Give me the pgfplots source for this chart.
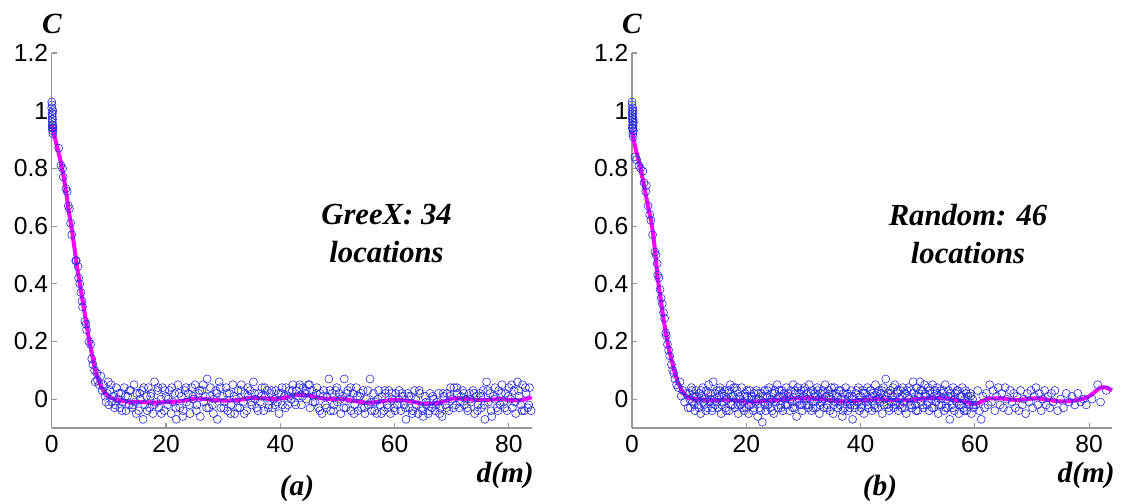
\documentclass[border=0pt]{standalone}
\usepackage{fontspec}
\setmainfont{Liberation Serif}
\newfontfamily\arial{Liberation Sans}
\usepackage{pgfplots}
\pgfplotsset{compat=1.18}
\definecolor{axgray}{RGB}{150,150,150}
\pgfplotsset{
  panel/.style={
    scale only axis, width=360pt, height=281.25pt,
    xmin=0, xmax=84, ymin=-0.1, ymax=1.2,
    axis x line=bottom, axis y line=left,
    axis line style={-, axgray, line width=1.1pt},
    tick style={axgray, line width=0.8pt}, tick align=inside,
    major tick length=3.75pt,
    xtick={0,20,40,60,80}, ytick={0,0.2,0.4,0.6,0.8,1,1.2},
    /pgf/number format/assume math mode=true,
    /pgf/number format/.cd, fixed, precision=1, /pgfplots/.cd,
    ticklabel style={font=\arial\fontsize{18.5}{20}\selectfont, text=black},
    yticklabel style={inner sep=2.5pt},
    xticklabel style={inner sep=1pt, yshift=-4pt},
    clip=false,
  },
  pts/.style={only marks, mark=o, mark size=3pt, mark options={draw={rgb,255:red,40;green,40;blue,230}, line width=0.45pt}},
  fit/.style={no marks, color={rgb,255:red,255;green,0;blue,255}, line width=3pt, smooth},
}
\begin{document}
\begin{tikzpicture}
\useasboundingbox (0,0) rectangle (842.25pt,377.25pt);
% ---------------- panel (a)
\begin{axis}[panel, at={(38.8pt,56.25pt)}, anchor=south west]
\addplot[pts] coordinates {
(0,1.03) (0,1.01) (0.05,0.99) (0.05,0.97) (0.1,0.98) (0.1,0.96) (0.1,0.95) (0.15,0.94) (0.15,0.93) (0.2,0.92) (0.2,1.00) (0.05,1.02) (0.1,0.99) (0.15,0.97) (0.2,0.95) (0.25,0.94) (0.05,0.94)
(1.2,0.87) (1.6,0.81) (1.9,0.80) (2.0,0.77) (2.5,0.73) (2.7,0.72) (2.9,0.67) (3.1,0.66) (3.3,0.61) (3.5,0.57) (4.2,0.48) (4.3,0.48) (4.6,0.46) (4.7,0.42) (4.9,0.40) (5.1,0.37) (5.3,0.34) (5.4,0.32) (5.8,0.27) (6.0,0.26) (6.1,0.24) (6.5,0.20) (6.8,0.19) (7.0,0.14) (7.2,0.12) (7.5,0.10) (7.9,0.09) (7.6,0.06) (8.0,0.065) (8.3,0.05) (8.6,0.08) (8.8,0.03) (9.0,0.05) (9.3,0.01) (9.5,-0.01) (9.7,0.02) (9.9,0.06) (10.0,-0.02)
(10.2,0.03) (10.5,-0.01) (10.8,0.01) (11.1,-0.02) (11.3,0.04) (11.6,0.00) (11.9,-0.03) (12.2,0.02) (12.4,-0.01) (12.7,0.04) (13.0,-0.04) (13.3,0.01) (13.5,-0.02) (13.8,0.03) (14.1,-0.03) (14.4,0.05) (14.6,-0.01) (14.9,0.02) (15.2,-0.04) (15.5,0.00) (15.8,0.03) (16.0,-0.07) (16.3,-0.02) (16.6,0.01) (16.9,0.04) (17.1,-0.03) (17.4,0.02) (17.7,-0.05) (18.0,0.06) (18.3,-0.01) (18.5,0.03) (18.8,-0.03) (19.1,0.00) (19.4,0.04) (19.7,-0.04) (20.0,0.01) (20.3,-0.02) (20.6,0.03) (20.9,-0.05) (21.2,-0.01) (21.5,0.02) (21.8,-0.07) (22.1,0.05) (22.4,-0.03) (22.7,0.01) (23.0,-0.04) (23.3,0.03) (23.6,-0.01) (23.9,0.02) (24.2,-0.05) (24.5,0.04) (24.8,0.00) (25.1,0.05) (25.4,-0.02) (25.7,0.02) (26.0,-0.06) (26.3,0.03) (26.6,-0.01) (26.9,0.01) (27.2,0.07) (27.5,-0.03) (27.8,0.04) (28.1,-0.02) (28.4,0.00) (28.7,0.03) (29.0,-0.07) (29.3,0.06) (29.6,-0.03) (29.9,0.01)
(30.2,-0.01) (30.5,0.04) (30.8,-0.04) (31.1,0.02) (31.4,-0.02) (31.7,0.05) (32.0,-0.05) (32.3,0.00) (32.6,0.03) (32.9,-0.03) (33.2,0.05) (33.5,-0.01) (33.8,0.02) (34.1,-0.04) (34.4,0.01) (34.7,0.03) (35.0,-0.02) (35.3,0.06) (35.6,0.00) (35.9,-0.03) (36.2,0.02) (36.5,-0.01) (36.8,0.04) (37.1,-0.04) (37.4,0.01) (37.7,0.03) (38.0,-0.02) (38.3,0.02) (38.6,-0.03) (38.9,0.00) (39.2,0.03) (39.5,-0.01) (39.8,-0.05) (40.1,0.02) (40.4,-0.02) (40.7,0.01) (41.0,0.04) (41.3,-0.02) (41.6,0.03) (41.9,0.00) (42.2,0.05) (42.5,-0.01) (42.8,0.03) (43.1,0.01) (43.4,0.05) (43.7,-0.02) (44.0,0.04) (44.3,0.02) (44.6,0.00) (44.9,0.05) (45.2,-0.03) (45.5,0.03) (45.8,0.01) (46.1,-0.01) (46.4,0.04) (46.7,-0.03) (47.0,0.02) (47.3,-0.05) (47.6,0.03) (47.9,-0.02) (48.2,0.01) (48.5,0.07) (48.8,-0.04) (49.1,0.02) (49.4,-0.02) (49.7,0.03)
(50.0,-0.01) (50.3,0.02) (50.6,-0.05) (50.9,0.01) (51.2,0.07) (51.5,-0.03) (51.8,0.03) (52.1,0.00) (52.4,-0.04) (52.7,0.02) (53.0,-0.02) (53.3,0.04) (53.6,-0.04) (53.9,0.01) (54.2,-0.03) (54.5,0.03) (54.8,-0.05) (55.1,0.00) (55.4,-0.02) (55.7,0.07) (56.0,-0.04) (56.3,0.02) (56.6,-0.01) (56.9,-0.05) (57.2,0.03) (57.5,-0.02) (57.8,0.01) (58.1,-0.04) (58.4,0.02) (58.7,-0.02) (59.0,0.03) (59.3,-0.05) (59.6,0.00) (59.9,-0.03) (60.2,0.02) (60.5,-0.02) (60.8,0.03) (61.1,-0.04) (61.4,0.01) (61.7,-0.02) (62.0,-0.07) (62.3,0.02) (62.6,-0.03) (62.9,0.01) (63.2,-0.04) (63.5,0.03) (63.8,-0.02) (64.1,-0.05) (64.4,0.02) (64.7,-0.03) (65.0,-0.06) (65.3,0.01) (65.6,-0.02) (65.9,-0.05) (66.2,0.02) (66.5,-0.03) (66.8,0.00) (67.1,-0.04) (67.4,-0.01) (67.7,0.02) (68.0,-0.03) (68.3,-0.06) (68.6,0.01) (68.9,-0.02) (69.2,0.02) (69.5,-0.04) (69.8,0.04)
(70.1,0.00) (70.4,0.04) (70.7,-0.02) (71.0,0.02) (71.3,-0.03) (71.6,0.01) (71.9,0.03) (72.2,-0.02) (72.5,0.00) (72.8,-0.04) (73.1,0.02) (73.4,-0.01) (73.7,0.03) (74.0,-0.05) (74.3,0.01) (74.6,-0.02) (74.9,0.02) (75.2,-0.03) (75.5,0.03) (75.8,-0.07) (76.1,0.06) (76.4,-0.01) (76.7,0.02) (77.0,-0.06) (77.3,0.01) (77.6,0.04) (77.9,-0.03) (78.2,0.03) (78.5,-0.02) (78.8,0.05) (79.1,-0.01) (79.4,0.02) (79.7,-0.04) (80.0,0.04) (80.3,0.00) (80.6,-0.03) (80.9,0.03) (81.2,-0.05) (81.5,0.06) (81.8,0.01) (82.1,-0.02) (82.4,0.05) (82.7,-0.04) (83.0,0.02) (83.3,-0.03) (83.6,0.04) (83.9,-0.04)
(10.4,0.05) (11.0,-0.03) (11.7,0.02) (12.3,-0.04) (12.9,0.01) (13.6,0.03) (14.2,-0.02) (14.8,-0.05) (15.4,0.02) (16.1,0.04) (16.7,-0.04) (17.3,0.01) (17.9,-0.02) (18.6,0.04) (19.2,-0.05) (19.8,0.03) (20.4,0.00) (21.0,0.04) (21.7,-0.03) (22.3,0.02) (22.9,-0.06) (23.5,0.04) (24.1,-0.02) (24.7,0.01) (25.3,-0.04) (25.9,0.03) (26.5,0.05) (27.1,-0.03) (27.7,0.01) (28.3,-0.05) (28.9,0.02) (29.5,0.04) (30.1,-0.03) (30.7,0.02) (31.3,-0.05) (31.9,0.01) (32.5,-0.03) (33.1,0.03) (33.7,-0.05) (34.3,0.04) (34.9,-0.01) (35.5,0.02) (36.1,-0.04) (36.7,0.01) (37.3,0.04) (37.9,-0.03) (38.5,0.03) (39.1,-0.02) (39.7,0.02) (40.3,0.04) (40.9,-0.03) (41.5,0.01) (42.1,0.03) (42.7,-0.02) (43.3,0.04) (43.9,0.01) (44.5,0.03) (45.1,0.05) (45.7,-0.01) (46.3,0.02) (46.9,-0.04) (47.5,0.01) (48.1,-0.03) (48.7,0.03) (49.3,-0.04) (49.9,0.04)
(50.5,0.00) (51.1,-0.03) (51.7,0.02) (52.3,0.04) (52.9,-0.05) (53.5,0.01) (54.1,0.02) (54.7,-0.03) (55.3,0.03) (55.9,-0.01) (56.5,-0.04) (57.1,0.00) (57.7,-0.05) (58.3,0.03) (58.9,-0.03) (59.5,0.02) (60.1,-0.04) (60.7,0.00) (61.3,0.02) (61.9,-0.03) (62.5,0.01) (63.1,-0.05) (63.7,0.00) (64.3,0.03) (64.9,-0.04) (65.5,-0.01) (66.1,-0.04) (66.7,0.01) (67.3,-0.02) (67.9,-0.05) (68.5,0.02) (69.1,-0.03) (69.7,0.01) (70.3,-0.03) (70.9,0.04) (71.5,-0.01) (72.1,0.02) (72.7,-0.03) (73.3,0.00) (73.9,0.02) (74.5,-0.04) (75.1,0.01) (75.7,-0.02) (76.3,0.03) (76.9,-0.04) (77.5,0.00) (78.1,-0.04) (78.7,0.02) (79.3,-0.03) (79.9,0.01) (80.5,0.05) (81.1,-0.01) (81.7,0.03) (82.3,-0.04) (82.9,0.04) (83.5,-0.02)
};
\addplot[fit] coordinates {
(0,0.95) (0.5,0.91) (1,0.87) (1.5,0.83) (2,0.78) (2.5,0.72) (3,0.65) (3.5,0.59) (4,0.52) (4.5,0.45) (5,0.39) (5.5,0.33) (6,0.27) (6.5,0.21) (7,0.16) (7.5,0.11) (8,0.075) (8.5,0.05) (9,0.03) (10,0.01) (11,0) (12,-0.005) (14,-0.01) (16,-0.01) (18,-0.012) (20,-0.01) (22,-0.008) (24,-0.002) (25,0.002) (27,0.0) (29,-0.004) (31,-0.005) (33,-0.002) (35,0.004) (37,0.003) (39,0.0) (41,0.006) (43,0.015) (45,0.012) (47,0.004) (49,0.0) (51,0.0) (53,-0.006) (55,-0.012) (57,-0.01) (59,-0.004) (61,-0.003) (63,-0.008) (65,-0.016) (67,-0.014) (69,-0.006) (70,0.002) (72,0.001) (74,-0.002) (76,-0.003) (78,0.0) (80,-0.002) (82,-0.004) (84,0.007)
};
\end{axis}
% ---------------- panel (b)
\begin{axis}[panel, at={(474pt,56.25pt)}, anchor=south west]
\addplot[pts] coordinates {
(0,1.03) (0,1.02) (0,1.00) (0.05,0.99) (0.05,0.98) (0.05,0.97) (0.1,1.01) (0.1,0.96) (0.1,0.95) (0.1,0.94) (0.15,0.99) (0.15,0.93) (0.15,0.92) (0.2,0.97) (0.2,0.91) (0.2,0.95) (0.25,0.93) (0.05,0.94) (0.1,0.98) (0.2,1.00) (0.25,0.96)
(0.5,0.84) (0.8,0.83) (1.2,0.81) (1.5,0.80) (1.9,0.79) (2.1,0.75) (2.4,0.72) (2.5,0.74) (2.8,0.67) (3.1,0.64) (3.3,0.62) (3.6,0.57) (4.0,0.51) (4.2,0.50) (4.4,0.47) (4.5,0.43) (4.7,0.42) (4.9,0.38) (5.1,0.35) (5.3,0.33) (5.5,0.30) (5.7,0.28) (5.9,0.23) (6.0,0.22) (6.2,0.19) (6.4,0.17) (6.6,0.15) (6.9,0.12) (7.1,0.10) (7.3,0.09) (7.5,0.07) (7.8,0.05) (8.1,0.04) (8.4,0.06) (8.6,0.01) (8.9,0.03) (9.2,-0.01) (9.5,0.02) (9.8,-0.03)
(10.0,0.02) (10.2,-0.03) (10.4,0.04) (10.6,-0.01) (10.8,0.01) (11.0,-0.04) (11.2,0.03) (11.4,0.00) (11.6,-0.02) (11.8,0.02) (12.0,-0.05) (12.2,0.01) (12.4,0.04) (12.6,-0.02) (12.8,0.00) (13.0,0.03) (13.2,-0.03) (13.4,0.05) (13.6,-0.01) (13.8,0.02) (14.0,-0.04) (14.2,0.06) (14.4,0.00) (14.6,-0.02) (14.8,0.03) (15.0,-0.03) (15.2,0.01) (15.4,0.04) (15.6,-0.05) (15.8,0.02) (16.0,-0.01) (16.2,0.03) (16.4,-0.03) (16.6,0.00) (16.8,0.02) (17.0,-0.04) (17.2,0.05) (17.4,0.01) (17.6,-0.02) (17.8,0.04) (18.0,-0.03) (18.2,0.00) (18.4,0.03) (18.6,-0.05) (18.8,0.01) (19.0,-0.02) (19.2,0.04) (19.4,-0.01) (19.6,-0.04) (19.8,0.02)
(20.0,-0.03) (20.2,0.01) (20.4,-0.05) (20.6,0.03) (20.8,-0.02) (21.0,0.00) (21.2,-0.04) (21.4,0.02) (21.6,-0.01) (21.8,0.03) (22.0,-0.06) (22.2,0.00) (22.4,-0.03) (22.6,0.02) (22.8,-0.08) (23.0,-0.01) (23.2,0.03) (23.4,-0.04) (23.6,0.01) (23.8,-0.02) (24.0,0.04) (24.2,-0.03) (24.4,0.00) (24.6,0.02) (24.8,-0.05) (25.0,0.03) (25.2,-0.01) (25.4,0.05) (25.6,-0.03) (25.8,0.01) (26.0,-0.02) (26.2,0.03) (26.4,-0.04) (26.6,0.02) (26.8,0.00) (27.0,0.04) (27.2,-0.02) (27.4,0.01) (27.6,-0.04) (27.8,0.03) (28.0,-0.01) (28.2,0.05) (28.4,-0.03) (28.6,0.02) (28.8,-0.06) (29.0,0.04) (29.2,0.00) (29.4,-0.02) (29.6,0.03) (29.8,-0.04)
(30.0,0.01) (30.2,0.04) (30.4,-0.02) (30.6,0.02) (30.8,-0.03) (31.0,0.05) (31.2,0.00) (31.4,-0.04) (31.6,0.03) (31.8,-0.01) (32.0,0.02) (32.2,-0.03) (32.4,0.04) (32.6,0.00) (32.8,-0.05) (33.0,0.02) (33.2,-0.01) (33.4,0.03) (33.6,-0.03) (33.8,0.05) (34.0,0.01) (34.2,-0.02) (34.4,0.03) (34.6,-0.04) (34.8,0.00) (35.0,0.02) (35.2,-0.05) (35.4,0.04) (35.6,-0.01) (35.8,0.01) (36.0,-0.03) (36.2,0.03) (36.4,-0.02) (36.6,0.00) (36.8,-0.06) (37.0,0.02) (37.2,-0.03) (37.4,0.04) (37.6,-0.01) (37.8,-0.04) (38.0,0.01) (38.2,-0.02) (38.4,0.03) (38.6,-0.07) (38.8,0.00) (39.0,-0.03) (39.2,0.02) (39.4,-0.01) (39.6,0.04) (39.8,-0.04)
(40.0,0.01) (40.2,-0.02) (40.4,0.03) (40.6,-0.05) (40.8,0.02) (41.0,-0.01) (41.2,0.04) (41.4,-0.03) (41.6,0.00) (41.8,0.03) (42.0,-0.04) (42.2,0.02) (42.4,-0.02) (42.6,0.05) (42.8,0.00) (43.0,-0.03) (43.2,0.03) (43.4,-0.01) (43.6,0.02) (43.8,-0.05) (44.0,0.04) (44.2,0.00) (44.4,0.07) (44.6,-0.02) (44.8,0.02) (45.0,-0.04) (45.2,0.03) (45.4,-0.01) (45.6,0.01) (45.8,-0.03) (46.0,0.05) (46.2,-0.02) (46.4,0.02) (46.6,-0.04) (46.8,0.00) (47.0,0.03) (47.2,-0.03) (47.4,0.04) (47.6,-0.01) (47.8,0.02) (48.0,-0.05) (48.2,0.01) (48.4,0.04) (48.6,-0.02) (48.8,0.03) (49.0,-0.03) (49.2,0.06) (49.4,0.00) (49.6,-0.02) (49.8,0.04)
(50.0,-0.04) (50.2,0.02) (50.4,0.06) (50.6,-0.01) (50.8,0.03) (51.0,-0.03) (51.2,0.05) (51.4,0.01) (51.6,-0.02) (51.8,0.04) (52.0,-0.04) (52.2,0.02) (52.4,0.00) (52.6,0.05) (52.8,-0.03) (53.0,0.03) (53.2,-0.01) (53.4,0.04) (53.6,-0.05) (53.8,0.01) (54.0,0.03) (54.2,-0.02) (54.4,0.02) (54.6,-0.04) (54.8,0.05) (55.0,0.00) (55.2,-0.03) (55.4,0.03) (55.6,-0.07) (55.8,0.01) (56.0,-0.02) (56.2,0.04) (56.4,-0.04) (56.6,0.02) (56.8,-0.01) (57.0,0.03) (57.2,-0.05) (57.4,0.01) (57.6,-0.02) (57.8,0.04) (58.0,-0.03) (58.2,0.00) (58.4,0.03) (58.6,-0.04) (58.8,0.01) (59.0,-0.02) (59.2,0.02) (59.4,-0.05) (59.6,0.00) (59.8,-0.03)
(60.2,-0.02) (60.5,0.03) (60.8,-0.04) (61.1,-0.07) (61.4,0.01) (61.7,-0.03) (62.0,0.02) (62.3,-0.02) (62.6,0.05) (62.9,-0.01) (63.2,0.03) (63.5,-0.04) (63.8,0.01) (64.1,0.04) (64.4,-0.02) (64.7,0.02) (65.0,-0.03) (65.3,0.04) (65.6,0.00) (65.9,-0.04) (66.2,0.03) (66.5,-0.01) (66.8,0.02) (67.1,-0.03) (67.4,0.01) (67.7,-0.04) (68.0,0.03) (68.3,-0.02) (68.6,0.00) (68.9,-0.05) (69.2,0.02) (69.5,-0.01) (69.8,0.03) (70.1,-0.03) (70.4,0.01) (70.7,0.04) (71.0,-0.02) (71.3,0.02) (71.6,-0.04) (71.9,0.00) (72.2,0.03) (72.5,-0.02) (72.8,0.01) (73.1,-0.03) (73.4,0.02) (73.7,-0.01) (74.0,0.03) (74.5,-0.04) (75.0,0.00) (75.5,-0.03) (76.0,0.02) (76.5,-0.01) (77.0,0.01) (77.5,-0.02) (78.0,0.02) (78.5,-0.01) (79.0,0.00) (79.5,-0.02) (80.5,0.00) (81.5,0.05) (82.0,-0.01) (83.0,0.03)
(10.1,0.00) (10.5,0.03) (10.9,-0.02) (11.3,0.01) (11.7,-0.03) (12.1,0.03) (12.5,-0.01) (12.9,-0.04) (13.3,0.02) (13.7,0.00) (14.1,-0.03) (14.5,0.02) (14.9,-0.01) (15.3,0.03) (15.7,-0.02) (16.1,0.01) (16.5,-0.04) (16.9,0.03) (17.3,-0.02) (17.7,0.01) (18.1,0.04) (18.5,-0.02) (18.9,0.00) (19.3,-0.03) (19.7,0.01) (20.1,0.03) (20.5,-0.02) (20.9,0.01) (21.3,-0.03) (21.7,0.00) (22.1,0.02) (22.5,-0.04) (22.9,0.01) (23.3,-0.02) (23.7,0.03) (24.1,-0.01) (24.5,-0.04) (24.9,0.02) (25.3,0.00) (25.7,0.03) (26.1,-0.03) (26.5,0.01) (26.9,-0.02) (27.3,0.02) (27.7,0.00) (28.1,-0.03) (28.5,0.03) (28.9,-0.01) (29.3,0.02) (29.7,-0.02)
(30.1,0.03) (30.5,0.00) (30.9,-0.02) (31.3,0.02) (31.7,-0.03) (32.1,0.01) (32.5,0.03) (32.9,-0.02) (33.3,0.00) (33.7,0.02) (34.1,-0.03) (34.5,0.01) (34.9,0.04) (35.3,-0.02) (35.7,0.02) (36.1,-0.01) (36.5,0.03) (36.9,-0.04) (37.3,0.00) (37.7,0.02) (38.1,-0.03) (38.5,0.01) (38.9,-0.02) (39.3,0.03) (39.7,-0.01) (40.1,-0.03) (40.5,0.02) (40.9,0.00) (41.3,-0.02) (41.7,0.03) (42.1,0.01) (42.5,-0.03) (42.9,0.02) (43.3,0.00) (43.7,0.03) (44.1,-0.02) (44.5,0.01) (44.9,-0.03) (45.3,0.02) (45.7,0.04) (46.1,-0.01) (46.5,0.03) (46.9,-0.02) (47.3,0.01) (47.7,-0.03) (48.1,0.03) (48.5,0.00) (48.9,-0.02) (49.3,0.02) (49.7,-0.04)
(50.1,0.01) (50.5,0.03) (50.9,-0.02) (51.3,0.02) (51.7,-0.01) (52.1,0.03) (52.5,-0.03) (52.9,0.01) (53.3,0.02) (53.7,-0.02) (54.1,0.00) (54.5,0.03) (54.9,-0.03) (55.3,0.01) (55.7,0.02) (56.1,-0.03) (56.5,0.00) (56.9,0.03) (57.3,-0.02) (57.7,0.01) (58.1,-0.04) (58.5,0.02) (58.9,-0.01) (59.3,0.01) (59.7,-0.02)
};
\addplot[fit] coordinates {
(0,0.93) (0.5,0.88) (1,0.84) (1.5,0.80) (2,0.75) (2.5,0.70) (3,0.65) (3.5,0.60) (4,0.52) (4.5,0.42) (5,0.35) (5.5,0.28) (6,0.22) (6.5,0.17) (7,0.13) (7.5,0.09) (8,0.06) (8.5,0.04) (9,0.02) (10,0.005) (11,0) (13,-0.002) (15,-0.004) (17,-0.001) (19,-0.006) (21,-0.009) (23,-0.006) (25,-0.003) (27,0.0) (29,0.003) (31,0.002) (33,0.0) (35,-0.004) (37,-0.008) (39,-0.006) (41,-0.002) (43,0.0) (45,-0.002) (47,-0.004) (49,-0.002) (51,0.002) (53,0.004) (55,0.002) (57,-0.004) (59,-0.012) (60,-0.017) (61,-0.01) (62,0.0) (63,0.003) (65,0.002) (67,-0.003) (69,0.0) (71,0.003) (73,-0.003) (75,-0.008) (77,-0.006) (79,0.002) (80,0.01) (81,0.025) (82,0.04) (83,0.04) (84,0.03)
};
\end{axis}
% ---------------- texts
\begin{scope}[every node/.style={font=\bfseries\itshape\fontsize{22}{24}\selectfont, inner sep=0pt}]
\node at (39pt,359.25pt) {C};
\node at (474pt,359.25pt) {C};
\node[anchor=east] at (400.5pt,20.5pt) {d(m)};
\node[anchor=east] at (836.25pt,20.5pt) {d(m)};
\end{scope}
\begin{scope}[every node/.style={font=\bfseries\itshape\fontsize{22}{24}\selectfont, inner sep=0pt}]
\node at (222.75pt,11pt) {(a)};
\node at (660pt,11pt) {(b)};
\node[align=center, font=\bfseries\itshape\fontsize{23}{28.5}\selectfont] at (289.9pt,202pt) {GreeX: 34\\locations};
\node[align=center, font=\bfseries\itshape\fontsize{23}{28.5}\selectfont] at (726pt,202pt) {Random: 46\\locations};
\end{scope}
\end{tikzpicture}
\end{document}
